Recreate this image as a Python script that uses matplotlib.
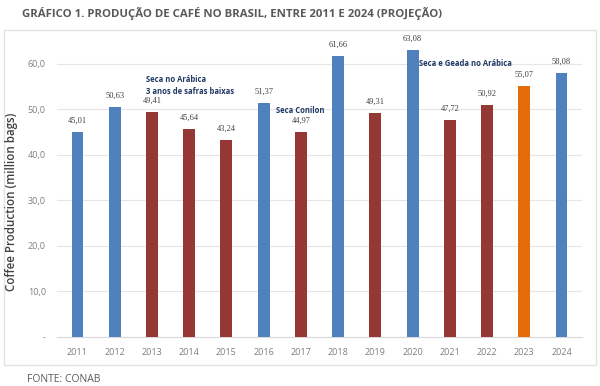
import matplotlib.pyplot as plt
from matplotlib.patches import Rectangle

# ── 数据 ──
years = ['2011', '2012', '2013', '2014', '2015', '2016', '2017',
         '2018', '2019', '2020', '2021', '2022', '2023', '2024']
production = [45.01, 50.63, 49.41, 45.64, 43.24, 51.37, 44.97,
              61.66, 49.31, 63.08, 47.72, 50.92, 55.07, 58.08]
value_labels = ['45,01', '50,63', '49,41', '45,64', '43,24', '51,37', '44,97',
                '61,66', '49,31', '63,08', '47,72', '50,92', '55,07', '58,08']
# tipo de ano: alta / baixa / projeção
kind = ['alta', 'alta', 'baixa', 'baixa', 'baixa', 'alta', 'baixa',
        'alta', 'baixa', 'alta', 'baixa', 'baixa', 'proj', 'alta']

C_ALTA = '#4F81BD'
C_BAIXA = '#953735'
C_PROJ = '#E46C0A'
C_TEXT = '#595959'
C_NOTE = '#1F3864'
colors = {'alta': C_ALTA, 'baixa': C_BAIXA, 'proj': C_PROJ}

plt.rcParams['font.family'] = ['Open Sans', 'DejaVu Sans']

fig = plt.figure(figsize=(6, 3.86), dpi=100)
fig.patch.set_facecolor('white')

# moldura do gráfico
frame = Rectangle((0.006, 0.055), 0.988, 0.868, transform=fig.transFigure,
                  facecolor='white', edgecolor='#E3E3E3', lw=1.0, zorder=-5)
fig.patches.append(frame)

ax = fig.add_axes([0.095, 0.127, 0.875, 0.778], zorder=2)
ax.patch.set_alpha(0)
x = range(len(years))
ax.bar(x, production, width=0.32, color=[colors[k] for k in kind], zorder=3)

for i, (v, lab) in enumerate(zip(production, value_labels)):
    ax.text(i, v + 1.6, lab, ha='center', va='bottom', fontsize=6,
            color='#404040', family='Liberation Serif')

ax.set_xlim(-0.55, len(years) - 0.45)
ax.set_ylim(0, 66)
yt = [0, 10, 20, 30, 40, 50, 60]
ax.set_yticks(yt)
ax.set_yticklabels(['-'] + [f'{t},0' for t in yt[1:]])
ax.set_xticks(list(x))
ax.set_xticklabels(years)
ax.tick_params(length=0, labelsize=6.5, colors='#7F7F7F', pad=8)
ax.grid(axis='y', color='#E6E6E6', lw=0.8, zorder=0)
for s in ['top', 'right', 'left']:
    ax.spines[s].set_visible(False)
ax.spines['bottom'].set_color('#D9D9D9')

ax.set_ylabel('Coffee Production (million bags)', fontsize=8.3, color='#404040',
              weight='semibold', labelpad=9)
ax.yaxis.set_label_coords(-0.075, 0.45)

# anotações
ax.text(1.85, 56.5, 'Seca no Arábica', fontsize=5.5, color=C_NOTE, weight='bold', va='center')
ax.text(1.85, 53.9, '3 anos de safras baixas', fontsize=5.5, color=C_NOTE, weight='bold', va='center')
ax.text(5.32, 49.7, 'Seca Conilon', fontsize=5.5, color=C_NOTE, weight='bold', va='center')
ax.text(9.18, 60.0, 'Seca e Geada no Arábica', fontsize=5.5, color=C_NOTE, weight='bold', va='center')

fig.text(0.037, 0.965, 'GRÁFICO 1. PRODUÇÃO DE CAFÉ NO BRASIL, ENTRE 2011 E 2024 (PROJEÇÃO)',
         fontsize=8.2, weight='bold', color=C_TEXT, va='center')
fig.text(0.045, 0.018, 'FONTE: CONAB', fontsize=7.5, color=C_TEXT, va='center')

plt.savefig('out.png', dpi=100, facecolor='white')
plt.close()
